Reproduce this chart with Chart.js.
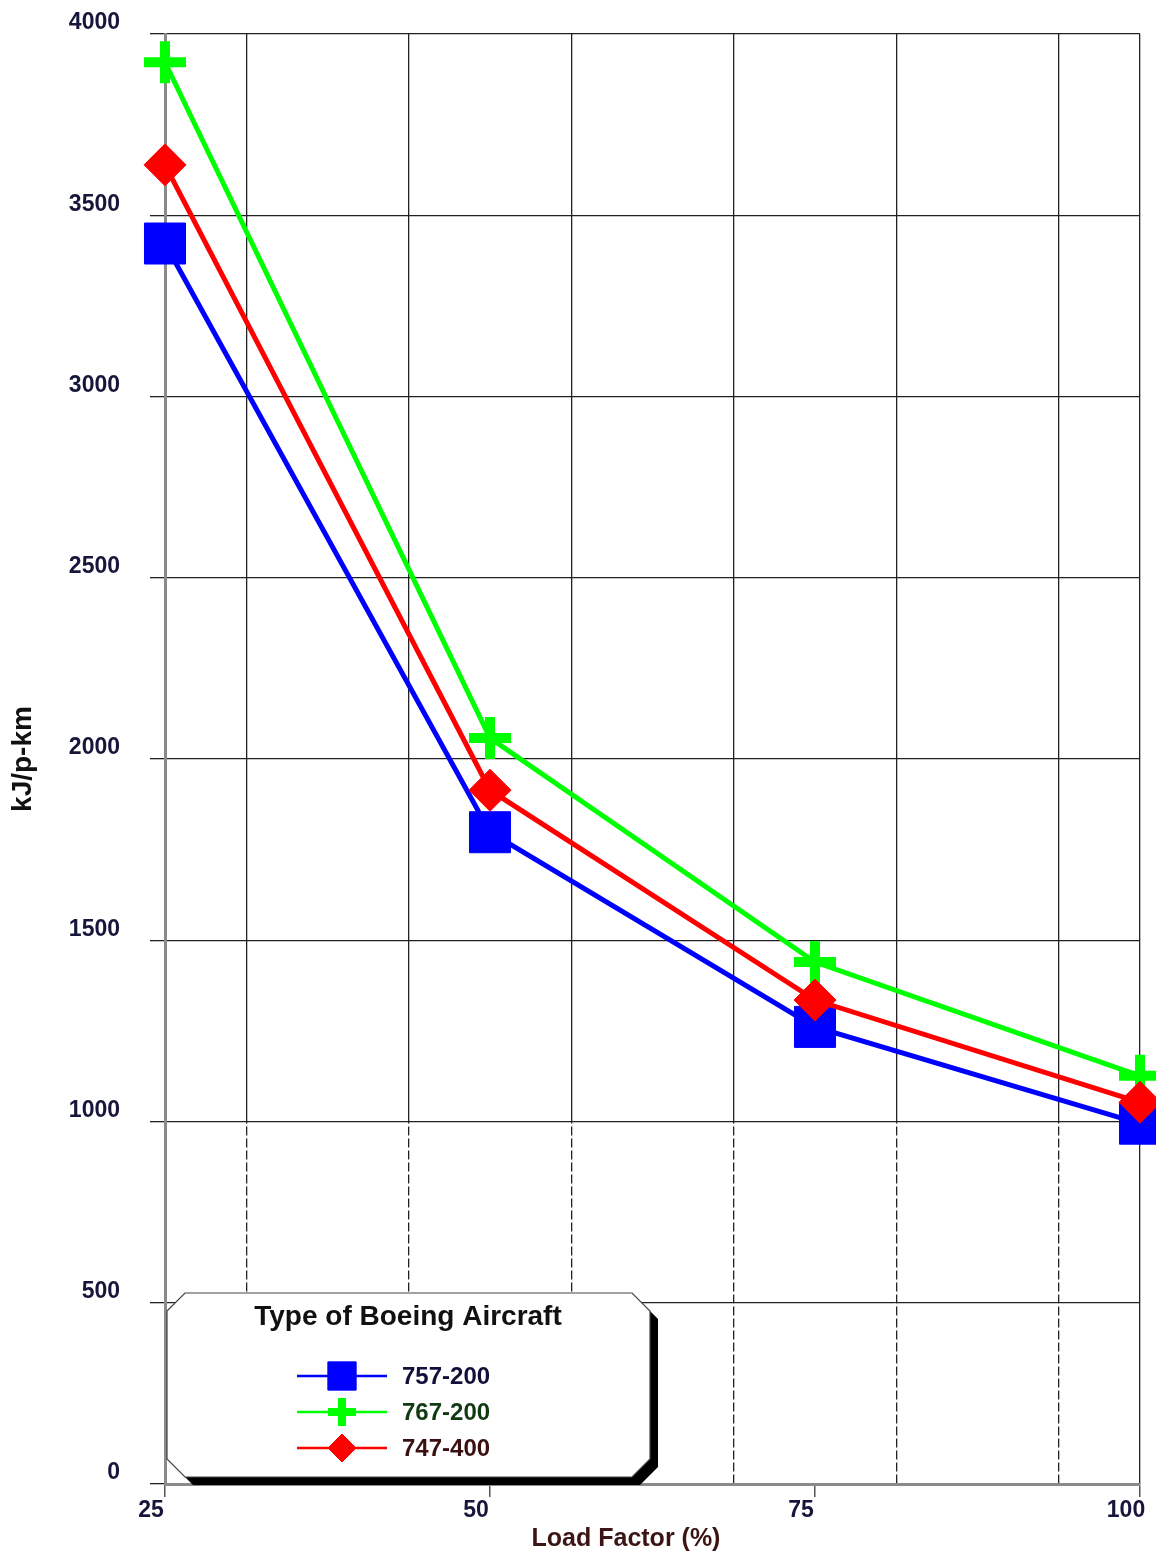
<!DOCTYPE html>
<html>
<head>
<meta charset="utf-8">
<title>Boeing kJ/p-km vs Load Factor</title>
<script src="https://cdn.jsdelivr.net/npm/chart.js@4.4.1/dist/chart.umd.min.js"></script>
<style>
  html, body { margin: 0; padding: 0; background: #fff; }
  #wrap { width: 1156px; height: 1555px; }
</style>
</head>
<body>
<div id="wrap"><canvas id="grafico" width="1156" height="1555"></canvas></div>
<script>
// valores
const loadFactor = [25, 50, 75, 100];
const b757 = [3422, 1798, 1261, 994];
const b767 = [3922, 2058, 1440, 1126];
const b747 = [3639, 1914, 1335, 1053];
const seriesNames = ['757-200', '767-200', '747-400'];
const xTicks = [25, 50, 75, 100];
const xGrid = [31.25, 43.75, 56.25, 68.75, 81.25, 93.75, 100];
const yTicks = [0, 500, 1000, 1500, 2000, 2500, 3000, 3500, 4000];
const dashedBelow = 1000; // abaixo deste valor as linhas verticais são tracejadas

const FONT = "'Liberation Sans', Arial, sans-serif";
const tickColor = '#16163c';

function pts(values) {
    return loadFactor.map((x, i) => ({ x: x, y: values[i] }));
}

const datasets = [
    {
        label: seriesNames[0], data: pts(b757), order: 3,
        borderColor: '#0000ff', backgroundColor: '#0000ff', borderWidth: 5,
        pointStyle: 'rect', pointRadius: 29, pointBorderWidth: 1,
        legendRadius: 20, legendBorder: 1, textColor: '#10103a'
    },
    {
        label: seriesNames[1], data: pts(b767), order: 2,
        borderColor: '#00ff00', backgroundColor: '#00ff00', borderWidth: 5,
        pointStyle: 'cross', pointRadius: 21, pointBorderWidth: 10,
        legendRadius: 14, legendBorder: 8, textColor: '#0f3a12'
    },
    {
        label: seriesNames[2], data: pts(b747), order: 1,
        borderColor: '#ff0000', backgroundColor: '#ff0000', borderWidth: 5,
        pointStyle: 'rectRot', pointRadius: 21, pointBorderWidth: 1,
        legendRadius: 14, legendBorder: 1, textColor: '#3a1010'
    }
];
datasets.forEach(d => {
    d.pointBackgroundColor = d.backgroundColor;
    d.pointBorderColor = d.borderColor;
    d.pointHoverRadius = d.pointRadius;
    d.tension = 0;
    d.clip = false;
});

function marker(ctx, ds, x, y) {
    ctx.save();
    ctx.fillStyle = ds.backgroundColor;
    ctx.strokeStyle = ds.borderColor;
    ctx.lineWidth = ds.legendBorder;
    Chart.helpers.drawPoint(ctx, {
        pointStyle: ds.pointStyle, radius: ds.legendRadius,
        rotation: 0, borderWidth: ds.legendBorder
    }, x, y);
    ctx.restore();
}

// linhas verticais tracejadas na parte de baixo (como no original)
const dashedGrid = {
    id: 'dashedGrid',
    beforeDatasetsDraw(chart) {
        const ctx = chart.ctx;
        const sx = chart.scales.x2, sy = chart.scales.y;
        const y0 = sy.getPixelForValue(dashedBelow) + 2, y1 = sy.getPixelForValue(0) - 2;
        ctx.save();
        ctx.strokeStyle = '#fff';
        ctx.lineWidth = 3;
        ctx.setLineDash([3, 9]);
        xGrid.slice(0, -1).forEach(v => {
            const x = sx.getPixelForValue(v);
            ctx.beginPath();
            ctx.moveTo(x, y0);
            ctx.lineTo(x, y1);
            ctx.stroke();
        });
        ctx.restore();
    }
};

// caixa da legenda com cantos cortados e sombra preta
const legendBox = {
    id: 'legendBox',
    afterDraw(chart) {
        const ctx = chart.ctx;
        const a = chart.chartArea;
        const L = a.left + 2, T = a.bottom - 191, R = a.left + 485, B = a.bottom - 7, c = 18;
        const shape = (dx, dy) => {
            ctx.beginPath();
            ctx.moveTo(L + dx, T + c + dy);
            ctx.lineTo(L + c + dx, T + dy);
            ctx.lineTo(R - c + dx, T + dy);
            ctx.lineTo(R + dx, T + c + dy);
            ctx.lineTo(R + dx, B - c + dy);
            ctx.lineTo(R - c + dx, B + dy);
            ctx.lineTo(L + c + dx, B + dy);
            ctx.lineTo(L + dx, B - c + dy);
            ctx.closePath();
        };
        ctx.save();
        shape(8, 8);
        ctx.fillStyle = '#000';
        ctx.fill();
        shape(0, 0);
        ctx.fillStyle = '#fff';
        ctx.fill();
        ctx.lineWidth = 1.2;
        ctx.strokeStyle = '#444';
        ctx.stroke();

        ctx.fillStyle = '#111';
        ctx.font = 'bold 28px ' + FONT;
        ctx.textAlign = 'center';
        ctx.textBaseline = 'middle';
        ctx.fillText('Type of Boeing Aircraft', a.left + 243, T + 24);

        const rows = [T + 83, T + 119, T + 155];
        datasets.forEach((ds, i) => {
            const y = rows[i];
            ctx.beginPath();
            ctx.moveTo(a.left + 132, y);
            ctx.lineTo(a.left + 222, y);
            ctx.lineWidth = 2.5;
            ctx.strokeStyle = ds.borderColor;
            ctx.stroke();
            marker(ctx, ds, a.left + 177, y);
            ctx.fillStyle = ds.textColor;
            ctx.font = 'bold 24px ' + FONT;
            ctx.textAlign = 'left';
            ctx.fillText(ds.label, a.left + 237, y + 1);
        });

        // título do eixo x (deslocado para a esquerda como no original)
        ctx.fillStyle = '#3c1414';
        ctx.font = 'bold 25px ' + FONT;
        ctx.textAlign = 'center';
        ctx.fillText('Load Factor (%)', a.left + 461, chart.height - 16);
        ctx.restore();
    }
};

new Chart(document.getElementById('grafico'), {
    type: 'line',
    data: { datasets: datasets },
    options: {
        responsive: false,
        animation: false,
        events: [],
        layout: { autoPadding: false, padding: { top: 34, right: 16, bottom: 0, left: 0 } },
        plugins: { legend: { display: false }, tooltip: { enabled: false } },
        scales: {
            x: {
                type: 'linear', position: 'bottom', min: 25, max: 100,
                afterBuildTicks: s => { s.ticks = xTicks.map(v => ({ value: v })); },
                afterFit: s => { s.height = 71; s.paddingLeft = 0; s.paddingRight = 0; },
                grid: { drawOnChartArea: false, drawTicks: true, tickLength: 13, color: '#555', lineWidth: 1.5 },
                border: { display: true, color: '#8a8a8a', width: 3 },
                ticks: {
                    color: tickColor, padding: 0, labelOffset: -14, maxRotation: 0,
                    callback: v => String(v),
                    font: { family: FONT, size: 23, weight: 'bold' }
                }
            },
            x2: {
                type: 'linear', position: 'top', min: 25, max: 100,
                afterBuildTicks: s => { s.ticks = xGrid.map(v => ({ value: v })); },
                afterFit: s => { s.height = 0; s.paddingLeft = 0; s.paddingRight = 0; },
                grid: { drawTicks: false, color: '#222', lineWidth: 1.3 },
                border: { display: false },
                ticks: { display: false }
            },
            y: {
                type: 'linear', min: 0, max: 4000,
                afterBuildTicks: s => { s.ticks = yTicks.map(v => ({ value: v })); },
                afterFit: s => { s.width = 165; s.paddingTop = 0; s.paddingBottom = 0; },
                grid: { color: '#222', lineWidth: 1.3, tickLength: 15 },
                border: { display: true, color: '#8a8a8a', width: 3 },
                ticks: {
                    color: tickColor, padding: 30, labelOffset: -11,
                    callback: v => String(v),
                    font: { family: FONT, size: 23, weight: 'bold' }
                },
                title: {
                    display: true, text: 'kJ/p-km', color: '#111',
                    padding: { top: 6, bottom: 0 },
                    font: { family: FONT, size: 28, weight: 'bold' }
                }
            }
        }
    },
    plugins: [dashedGrid, legendBox]
});
</script>
</body>
</html>
